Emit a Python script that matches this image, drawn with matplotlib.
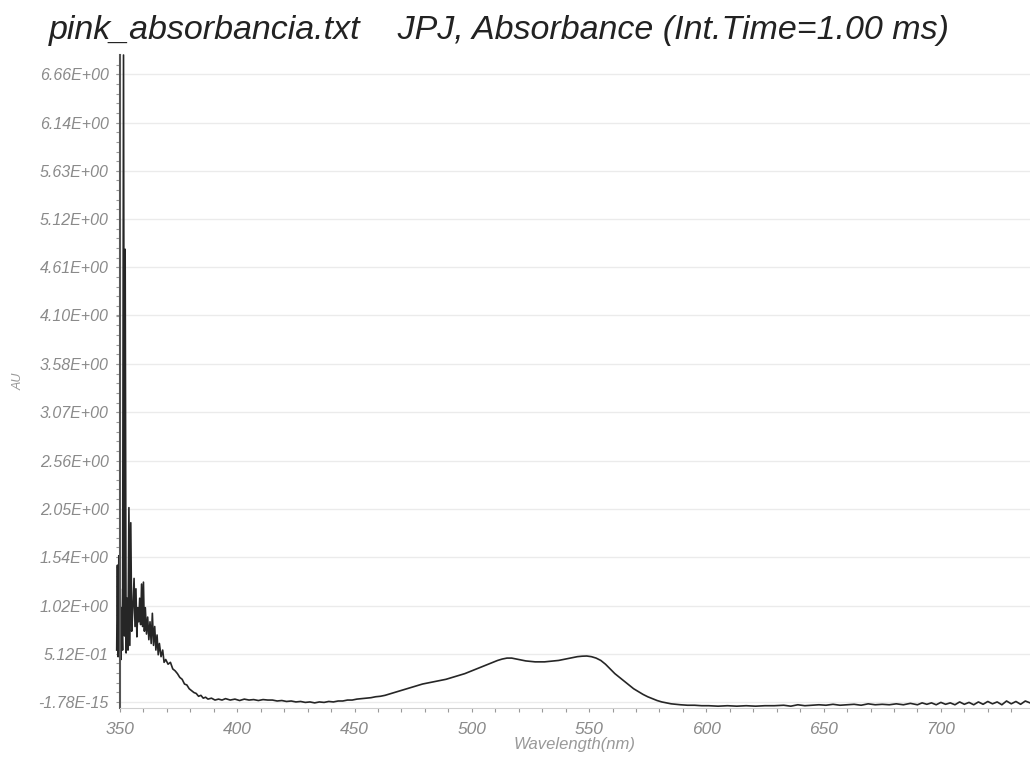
import matplotlib.pyplot as plt
from matplotlib.ticker import MultipleLocator

# spectrum (nm, AU)
wavelength = [
    348.6, 348.9, 349.2, 349.5, 349.8, 350.1, 350.4, 350.7, 351.1, 351.5,
    351.9, 352.2, 352.6, 353.0, 353.4, 353.8, 354.2, 354.6, 355.0, 355.5,
    356.0, 356.4, 356.8, 357.2, 357.6, 358.0, 358.4, 358.8, 359.2, 359.6,
    360.0, 360.4, 360.8, 361.3, 361.8, 362.3, 362.8, 363.3, 363.8, 364.3,
    364.8, 365.3, 365.8, 366.3, 366.8, 367.5, 368.2, 368.8, 369.5, 370.5,
    371.5, 372.5, 373.5, 374.5, 375.5, 376.5, 377.5, 378.5, 379.5, 380.5,
    381.5, 382.5, 383.5, 384.5, 385.5, 386.5, 387.5, 389, 390.5, 392,
    393.5, 395, 397, 399, 401, 403, 405, 407, 409, 411,
    413, 415, 417, 419, 421, 423, 425, 427, 429, 431,
    433, 435, 437, 439, 441, 443, 445, 447, 449, 451,
    453, 455, 457, 459, 461, 463, 465, 467, 469, 471,
    473, 475, 477, 479, 481, 483, 485, 487, 489, 491,
    493, 495, 497, 499, 501, 503, 505, 507, 509, 511,
    513, 515, 517, 519, 521, 523, 525, 527, 529, 531,
    533, 535, 537, 539, 541, 543, 545, 547, 549, 551,
    553, 555, 557, 559, 561, 563, 565, 567, 569, 571,
    573, 575, 577, 579, 581, 583, 585, 587, 589, 592,
    595, 598, 601, 605, 609, 613, 617, 621, 625, 629,
    633, 636, 639, 642, 645, 648, 651, 654, 657, 660,
    663, 666, 669, 672, 675, 678, 681, 684, 687, 690,
    692, 694, 696, 698, 700, 702, 704, 706, 708, 710,
    712, 714, 716, 718, 720, 722, 724, 726, 728, 730,
    732, 734, 736, 738,
]
absorbance = [
    0.55, 1.45, 0.48, 1.55, 0.60, 1.20, 0.45, 1.00, 0.55, 6.86,
    0.70, 4.80, 0.52, 1.10, 0.55, 2.06, 0.60, 1.90, 0.75, 1.00,
    1.31, 0.80, 1.20, 0.69, 1.00, 0.85, 1.10, 0.82, 1.25, 0.80,
    1.27, 0.75, 1.00, 0.72, 0.90, 0.66, 0.85, 0.62, 0.94, 0.60,
    0.80, 0.55, 0.71, 0.50, 0.62, 0.48, 0.55, 0.42, 0.45, 0.40,
    0.42, 0.35, 0.33, 0.30, 0.26, 0.24, 0.19, 0.18, 0.14, 0.12,
    0.10, 0.09, 0.06, 0.07, 0.04, 0.05, 0.03, 0.04, 0.02, 0.03,
    0.02, 0.035, 0.02, 0.03, 0.015, 0.03, 0.02, 0.025, 0.015, 0.025,
    0.02, 0.02, 0.01, 0.015, 0.005, 0.01, 0.0, 0.005, -0.005, 0.0,
    -0.01, 0.0, -0.005, 0.005, 0.0, 0.01, 0.01, 0.02, 0.02, 0.03,
    0.035, 0.04, 0.045, 0.055, 0.06, 0.07, 0.085, 0.10, 0.115, 0.13,
    0.145, 0.16, 0.175, 0.19, 0.20, 0.21, 0.22, 0.23, 0.24, 0.255,
    0.27, 0.285, 0.30, 0.32, 0.34, 0.36, 0.38, 0.40, 0.42, 0.44,
    0.455, 0.465, 0.465, 0.455, 0.445, 0.435, 0.43, 0.425, 0.425, 0.425,
    0.43, 0.435, 0.44, 0.45, 0.46, 0.47, 0.48, 0.485, 0.487, 0.48,
    0.465, 0.44, 0.40, 0.35, 0.30, 0.26, 0.22, 0.18, 0.14, 0.11,
    0.08, 0.055, 0.035, 0.015, 0.0, -0.01, -0.02, -0.025, -0.03, -0.035,
    -0.035, -0.04, -0.04, -0.045, -0.04, -0.045, -0.04, -0.045, -0.04, -0.04,
    -0.035, -0.045, -0.03, -0.04, -0.035, -0.03, -0.035, -0.025, -0.035, -0.03,
    -0.025, -0.035, -0.02, -0.03, -0.025, -0.03, -0.02, -0.03, -0.015, -0.03,
    -0.01, -0.025, -0.01, -0.03, -0.005, -0.025, -0.01, -0.03, 0.0, -0.025,
    -0.005, -0.03, 0.0, -0.025, 0.005, -0.02, 0.0, -0.03, 0.01, -0.02,
    0.005, -0.025, 0.01, -0.01,
]

y_ticks = [-1.78e-15, 0.512, 1.02, 1.54, 2.05, 2.56, 3.07, 3.58, 4.10,
           4.61, 5.12, 5.63, 6.14, 6.66]
y_labels = ["-1.78E-15", "5.12E-01", "1.02E+00", "1.54E+00", "2.05E+00",
            "2.56E+00", "3.07E+00", "3.58E+00", "4.10E+00", "4.61E+00",
            "5.12E+00", "5.63E+00", "6.14E+00", "6.66E+00"]
x_ticks = [350, 400, 450, 500, 550, 600, 650, 700]

plt.rcParams['font.family'] = ['Liberation Sans', 'DejaVu Sans']

fig = plt.figure(figsize=(10.3, 7.62), dpi=100)
ax = fig.add_axes([0.1165, 0.0709, 0.8835, 0.8569])

ax.plot(wavelength, absorbance, color='#262626', linewidth=1.2, clip_on=False)

ax.set_xlim(351.7, 738)
ax.set_ylim(-0.064, 6.86)

ax.set_yticks(y_ticks)
ax.set_yticklabels(y_labels, fontstyle='italic', color='#8a8a8a', fontsize=11.5)
ax.set_xticks(x_ticks)
ax.set_xticklabels([str(v) for v in x_ticks], fontstyle='italic',
                   color='#8a8a8a', fontsize=12.5)
ax.xaxis.set_minor_locator(MultipleLocator(10))
ax.yaxis.set_minor_locator(MultipleLocator(0.1024))
ax.tick_params(axis='both', which='both', color='#999999', length=3, width=0.8)
ax.tick_params(axis='x', which='major', pad=7)
ax.tick_params(axis='y', which='major', pad=5)

ax.grid(axis='y', which='major', color='#ebebeb', linewidth=1.0)

ax.spines['top'].set_visible(False)
ax.spines['right'].set_visible(False)
ax.spines['left'].set_color('#555555')
ax.spines['left'].set_linewidth(1.5)
ax.spines['bottom'].set_color('#d0d0d0')

ax.set_xlabel("Wavelength(nm)", fontstyle='italic', color='#999999', fontsize=12)
ax.set_ylabel("AU", fontstyle='italic', color='#999999', fontsize=9)
ax.xaxis.set_label_coords(0.5, -0.045)
ax.yaxis.set_label_coords(-0.105, 0.5)

fig.text(0.047, 0.96, "pink_absorbancia.txt    JPJ, Absorbance (Int.Time=1.00 ms)",
         fontsize=24.5, fontstyle='italic', color='#222222', va='center')

plt.savefig("out.png", dpi=100)
plt.close()
